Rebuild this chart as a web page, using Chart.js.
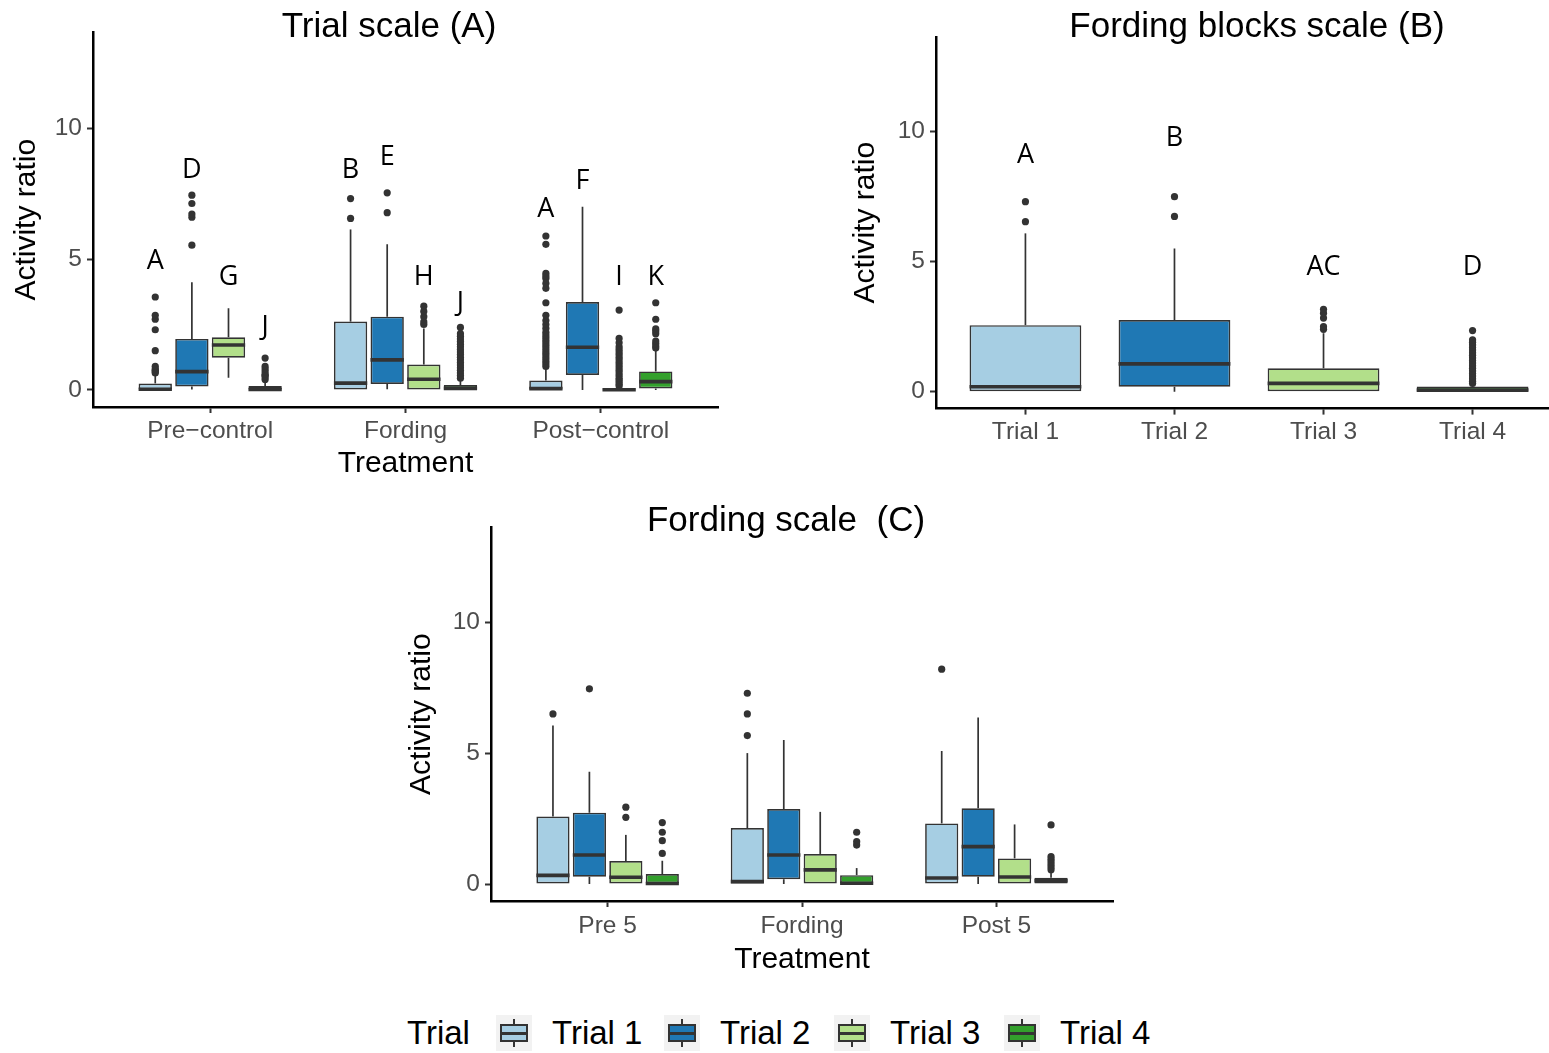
<!DOCTYPE html>
<html>
<head>
<meta charset="utf-8">
<script src="https://cdn.jsdelivr.net/npm/chart.js@4.4.1/dist/chart.umd.min.js"></script>
<style>
  html, body { margin: 0; padding: 0; background: #fff; }
  body { width: 1549px; height: 1053px; overflow: hidden; position: relative;
         font-family: 'Liberation Sans', Arial, Helvetica, sans-serif; }
  canvas { position: absolute; }
  #panelA { left: 0; top: 0; }
  #panelB { left: 780px; top: 0; }
  #panelC { left: 400px; top: 490px; }
  .lg-text { position: absolute; top: 1013px; height: 40px; line-height: 40px; font-size: 33px;
             color: #000; white-space: pre; }
  .lg-key { position: absolute; top: 1015px; width: 36px; height: 36px; background: #f2f2f2; }
  .lg-key .whisker { position: absolute; left: 17px; width: 2px; top: 4px; height: 28px; background: #333; }
  .lg-key .box { position: absolute; left: 4px; top: 9px; width: 24px; height: 14px;
                 border: 2px solid #333; }
  .lg-key .median { position: absolute; left: 4px; top: 16.5px; width: 28px; height: 3px; background: #333; }
</style>
</head>
<body>
<canvas id="panelA" width="760" height="490"></canvas>
<canvas id="panelB" width="800" height="490"></canvas>
<canvas id="panelC" width="760" height="500"></canvas>
<div id="legend"></div>

<script>
// ---------- shared series info ----------
const trialNames  = ['Trial 1', 'Trial 2', 'Trial 3', 'Trial 4'];
const trialColors = ['#A6CEE3', '#1F78B4', '#B2DF8A', '#33A02C'];
const yTickValues = [0, 5, 10];

// ---------- Trial scale (A): rows = trials, columns = treatments ----------
const treatmentsA = ['Pre\u2212control', 'Fording', 'Post\u2212control'];
const aWhiskerLow  = [[0, 0, 0], [0.02, 0.03, 0], [0.47, 0, 0], [0, 0, 0]];
const aQ1          = [[0, 0, 0], [0.13, 0.23, 0.57], [1.23, 0, 0], [0, 0, 0.06]];
const aMedian      = [[0.03, 0.26, 0.05], [0.70, 1.15, 1.63], [1.72, 0.41, 0.01], [0.02, 0.06, 0.32]];
const aQ3          = [[0.25, 2.61, 0.36], [1.95, 2.80, 3.36], [2.01, 0.97, 0.05], [0.15, 0.19, 0.71]];
const aWhiskerHigh = [[0.55, 6.13, 0.80], [4.11, 5.56, 7.00], [3.12, 2.35, 0.12], [0.35, 0.40, 1.53]];
const aOutliers = [
  [[0.65, 0.7, 0.75, 0.8, 0.9, 1.5, 2.3, 2.7, 2.85, 3.55],
   [6.55, 7.31],
   [0.9, 1.0, 1.1, 1.2, 1.3, 1.4, 1.5, 1.6, 1.7, 1.8, 1.9, 2.0, 2.1, 2.2, 2.35, 2.5, 2.65, 2.85,
    3.33, 3.88, 4.07, 4.26, 4.35, 4.45, 5.56, 5.88]],
  [[5.53, 6.6, 6.72, 7.12, 7.44],
   [6.77, 7.53],
   []],
  [[],
   [2.5, 2.6, 2.8, 3.0, 3.2],
   [0.15, 0.22, 0.3, 0.38, 0.45, 0.55, 0.65, 0.75, 0.85, 0.95, 1.05, 1.15, 1.25, 1.35, 1.45,
    1.55, 1.65, 1.8, 1.97, 3.05]],
  [[0.4, 0.5, 0.55, 0.6, 0.7, 0.8, 0.9, 1.22],
   [0.45, 0.55, 0.65, 0.75, 0.85, 0.95, 1.05, 1.15, 1.25, 1.35, 1.45, 1.55, 1.65, 1.75, 1.85,
    1.95, 2.05, 2.15, 2.39],
   [1.6, 1.68, 1.77, 1.87, 2.15, 2.25, 2.33, 2.7, 3.33]]
];
const aLetters  = [['A', 'B', 'A'], ['D', 'E', 'F'], ['G', 'H', 'I'], ['J', 'J', 'K']];
const aLetterAt = [[4.9, 8.4, 6.9], [8.38, 8.87, 7.95], [4.31, 4.31, 4.31], [2.4, 3.32, 4.31]];

// ---------- Fording blocks scale (B): one box per trial ----------
const bWhiskerLow  = [0, 0, 0, 0];
const bQ1          = [0, 0.19, 0, 0];
const bMedian      = [0.19, 1.07, 0.32, 0.06];
const bQ3          = [2.56, 2.76, 0.90, 0.2];
const bWhiskerHigh = [6.09, 5.51, 2.25, 0.30];
const bOutliers = [
  [6.54, 7.31],
  [6.74, 7.5],
  [2.4, 2.5, 2.83, 3.02, 3.17],
  [0.32, 0.4, 0.5, 0.6, 0.7, 0.8, 0.9, 1.0, 1.1, 1.2, 1.3, 1.4, 1.5, 1.6, 1.7, 1.8, 1.9, 1.99, 2.35]
];
const bLetters  = ['A', 'B', 'AC', 'D'];
const bLetterAt = [9.1, 9.76, 4.8, 4.8];

// ---------- Fording scale (C): rows = trials, columns = treatments ----------
const treatmentsC = ['Pre 5', 'Fording', 'Post 5'];
const cWhiskerLow  = [[0, 0, 0], [0, 0, 0], [0, 0, 0], [0, 0, 0]];
const cQ1          = [[0, 0, 0], [0.28, 0.18, 0.28], [0, 0, 0], [0, 0, 0]];
const cMedian      = [[0.33, 0.09, 0.23], [1.11, 1.11, 1.43], [0.26, 0.54, 0.27], [0.02, 0.03, 0.13]];
const cQ3          = [[2.58, 2.14, 2.32], [2.73, 2.87, 2.90], [0.88, 1.15, 0.98], [0.38, 0.34, 0.24]];
const cWhiskerHigh = [[6.07, 5.01, 5.09], [4.30, 5.51, 6.37], [1.88, 2.76, 2.28], [0.89, 0.61, 0.47]];
const cOutliers = [
  [[6.51], [5.68, 6.51, 7.30], [8.22]],
  [[7.47], [], []],
  [[2.55, 2.94], [], []],
  [[1.17, 1.66, 1.98, 2.35], [1.49, 1.62, 1.98], [0.55, 0.65, 0.75, 0.85, 0.95, 1.05, 2.26]]
];

// ---------- drawing helpers ----------
const SANS = "'Liberation Sans', Arial, Helvetica, sans-serif";
const LETTER_FONT = "27px 'Open Sans', 'Noto Sans', sans-serif";
const INK = '#333333';
Chart.defaults.font.family = SANS;

const headings = {};

// whiskers, medians and group letters on top of the floating-bar boxes
const boxDecorations = {
  id: 'boxDecorations',
  afterDatasetsDraw(chart) {
    const ctx = chart.ctx, ys = chart.scales.y;
    ctx.save();
    chart.data.datasets.forEach((ds, i) => {
      if (!ds.boxStats) return;
      const meta = chart.getDatasetMeta(i);
      meta.data.forEach((bar, j) => {
        const s = ds.boxStats[j];
        const x = bar.x, half = bar.width / 2;
        ctx.strokeStyle = INK;
        ctx.lineCap = 'butt';
        ctx.lineWidth = 1.7;
        ctx.beginPath();
        ctx.moveTo(x, ys.getPixelForValue(s.q3));
        ctx.lineTo(x, ys.getPixelForValue(s.hi));
        ctx.moveTo(x, ys.getPixelForValue(s.q1));
        ctx.lineTo(x, ys.getPixelForValue(s.lo));
        ctx.stroke();
        ctx.lineWidth = 3.6;
        ctx.beginPath();
        const my = ys.getPixelForValue(s.med);
        ctx.moveTo(x - half, my);
        ctx.lineTo(x + half, my);
        ctx.stroke();
        if (s.letter) {
          ctx.fillStyle = '#000';
          ctx.font = LETTER_FONT;
          ctx.textAlign = 'center';
          ctx.textBaseline = 'middle';
          ctx.fillText(s.letter, x, ys.getPixelForValue(s.letterAt));
        }
      });
    });
    ctx.restore();
  },
  afterDraw(chart) {
    const h = headings[chart.canvas.id];
    if (!h) return;
    const ctx = chart.ctx;
    ctx.save();
    ctx.fillStyle = '#000';
    ctx.font = '35px ' + SANS;
    ctx.textAlign = 'center';
    ctx.textBaseline = 'middle';
    ctx.fillText(h.text, h.x, h.y);
    ctx.restore();
  }
};

function buildPanel(p) {
  const datasets = [];
  trialNames.forEach((name, t) => {
    const cols = p.columns(t);
    datasets.push({
      type: 'bar',
      label: name,
      data: cols.map(c => ({ x: p.xFor(t, c), y: [p.q1(t, c), p.q3(t, c)] })),
      boxStats: cols.map(c => ({
        lo: p.lo(t, c), q1: p.q1(t, c), med: p.med(t, c), q3: p.q3(t, c), hi: p.hi(t, c),
        letter: p.letter ? p.letter(t, c) : null,
        letterAt: p.letterAt ? p.letterAt(t, c) : null
      })),
      backgroundColor: trialColors[t],
      borderColor: INK,
      borderWidth: 1.7,
      borderSkipped: false,
      grouped: false,
      categoryPercentage: 1,
      barPercentage: p.boxFraction,
      order: 2
    });
    const pts = [];
    cols.forEach(c => p.out(t, c).forEach(v => pts.push({ x: p.xFor(t, c), y: v })));
    datasets.push({
      type: 'scatter',
      label: name + ' outliers',
      data: pts,
      pointRadius: 3.6,
      pointHoverRadius: 3.6,
      pointBackgroundColor: INK,
      pointBorderWidth: 0,
      showLine: false,
      order: 1
    });
  });

  headings[p.canvas] = p.heading;

  return new Chart(document.getElementById(p.canvas), {
    type: 'bar',
    data: { datasets },
    plugins: [boxDecorations],
    options: {
      responsive: false,
      animation: false,
      events: [],
      layout: { padding: p.padding },
      plugins: { legend: { display: false }, tooltip: { enabled: false }, title: { display: false } },
      scales: {
        x: {
          type: 'linear',
          min: 0.4,
          max: p.categories.length + 0.6,
          offset: false,
          afterBuildTicks: s => { s.ticks = p.categories.map((_, i) => ({ value: i + 1 })); },
          afterFit: s => { s.height = p.xAxisHeight; },
          ticks: {
            callback: v => p.categories[Math.round(v) - 1],
            color: '#4d4d4d',
            font: { size: 24.5 },
            padding: p.xTickPad,
            autoSkip: false,
            maxRotation: 0,
            minRotation: 0
          },
          grid: { display: true, offset: false, drawOnChartArea: false, drawTicks: true,
                  tickLength: 6, tickWidth: 2, tickColor: INK, color: INK },
          border: { display: true, color: '#000', width: 2.5 },
          title: { display: !!p.xTitle, text: p.xTitle || '', color: '#000',
                   font: { size: 30 }, padding: { top: 0, bottom: p.xTitlePad } }
        },
        y: {
          type: 'linear',
          min: -0.65,
          max: 13.65,
          afterBuildTicks: s => { s.ticks = yTickValues.map(v => ({ value: v })); },
          afterFit: s => { s.width = p.yAxisWidth; },
          ticks: { color: '#4d4d4d', font: { size: 24.5 }, padding: 5 },
          grid: { display: true, drawOnChartArea: false, drawTicks: true,
                  tickLength: 6, tickWidth: 2, tickColor: INK, color: INK },
          border: { display: true, color: '#000', width: 2.5 },
          title: { display: true, text: 'Activity ratio', color: '#000',
                   font: { size: 30 }, padding: { top: p.yTitlePad, bottom: 0 } }
        }
      }
    }
  });
}

const dodge = t => (t - 1.5) * 0.1875;

function draw() {
  buildPanel({
    canvas: 'panelA',
    heading: { text: 'Trial scale (A)', x: 389, y: 27.5 },
    categories: treatmentsA,
    columns: () => [0, 1, 2],
    xFor: (t, c) => c + 1 + dodge(t),
    lo: (t, c) => aWhiskerLow[t][c], q1: (t, c) => aQ1[t][c], med: (t, c) => aMedian[t][c],
    q3: (t, c) => aQ3[t][c], hi: (t, c) => aWhiskerHigh[t][c], out: (t, c) => aOutliers[t][c],
    letter: (t, c) => aLetters[t][c], letterAt: (t, c) => aLetterAt[t][c],
    boxFraction: 0.91,
    padding: { left: 0, top: 32.5, right: 42, bottom: 3 },
    yAxisWidth: 93, xAxisHeight: 80, yTitlePad: 9, xTickPad: 4, xTitle: 'Treatment', xTitlePad: 5
  });

  buildPanel({
    canvas: 'panelB',
    heading: { text: 'Fording blocks scale (B)', x: 477, y: 27 },
    categories: trialNames,
    columns: () => [0],
    xFor: (t) => t + 1,
    lo: t => bWhiskerLow[t], q1: t => bQ1[t], med: t => bMedian[t],
    q3: t => bQ3[t], hi: t => bWhiskerHigh[t], out: t => bOutliers[t],
    letter: t => bLetters[t], letterAt: t => bLetterAt[t],
    boxFraction: 0.75,
    padding: { left: 0, top: 36.8, right: 18, bottom: 21.4 },
    yAxisWidth: 156, xAxisHeight: 60, yTitlePad: 68, xTickPad: 3, xTitle: null, xTitlePad: 0
  });

  buildPanel({
    canvas: 'panelC',
    heading: { text: 'Fording scale  (C)', x: 386, y: 31 },
    categories: treatmentsC,
    columns: () => [0, 1, 2],
    xFor: (t, c) => c + 1 + dodge(t),
    lo: (t, c) => cWhiskerLow[t][c], q1: (t, c) => cQ1[t][c], med: (t, c) => cMedian[t][c],
    q3: (t, c) => cQ3[t][c], hi: (t, c) => cWhiskerHigh[t][c], out: (t, c) => cOutliers[t][c],
    boxFraction: 0.91,
    padding: { left: 0, top: 37.3, right: 47, bottom: 9 },
    yAxisWidth: 91, xAxisHeight: 80, yTitlePad: 4, xTickPad: 4.6, xTitle: 'Treatment', xTitlePad: 3.6
  });

  // legend along the bottom
  const legend = document.getElementById('legend');
  const addText = (txt, left) => {
    const d = document.createElement('div');
    d.className = 'lg-text';
    d.style.left = left + 'px';
    d.textContent = txt;
    legend.appendChild(d);
  };
  const addKey = (color, left) => {
    const k = document.createElement('div');
    k.className = 'lg-key';
    k.style.left = left + 'px';
    k.innerHTML = '<div class="whisker"></div><div class="box" style="background:' + color +
                  '"></div><div class="median"></div>';
    legend.appendChild(k);
  };
  addText('Trial', 407);
  const keyLefts = [496, 664, 834, 1004];
  trialNames.forEach((name, t) => {
    addKey(trialColors[t], keyLefts[t]);
    addText(name, keyLefts[t] + 56);
  });
}

const fontsReady = document.fonts
  ? Promise.all([
      document.fonts.load("35px 'Liberation Sans'"),
      document.fonts.load(LETTER_FONT)
    ]).catch(() => {})
  : Promise.resolve();
fontsReady.then(draw);
</script>
</body>
</html>
